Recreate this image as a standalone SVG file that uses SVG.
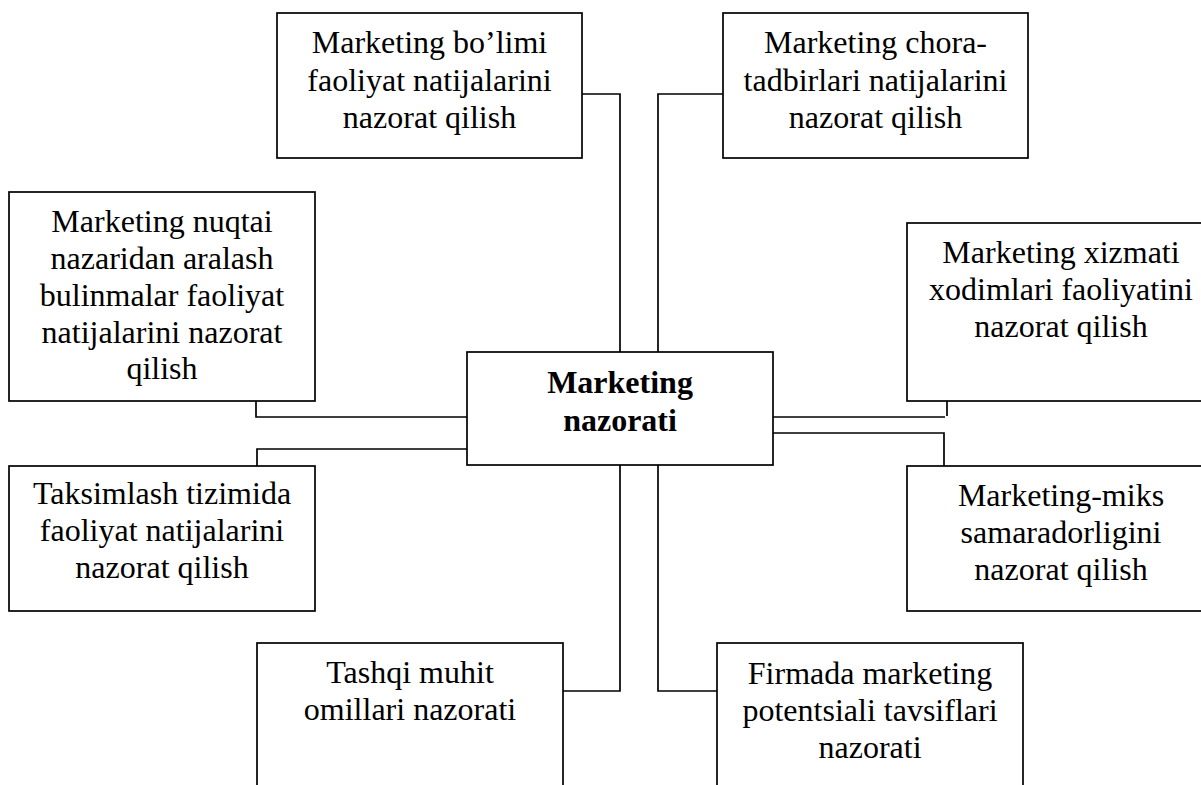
<svg xmlns="http://www.w3.org/2000/svg" width="1201" height="785" viewBox="0 0 1201 785">
<style>
rect.box{fill:#fff;stroke:#000;stroke-width:1.7}
.conn polyline{fill:none;stroke:#000;stroke-width:1.7}
text{font-family:"Liberation Serif","Times New Roman",serif;font-size:32px;fill:#000;text-anchor:middle}
text.bold{font-weight:bold}
</style>
<rect width="1201" height="785" fill="#fff"/>
<g class="conn" id="connectors">
<polyline points="582,94 620,94 620,352"/>
<polyline points="723,94 658,94 658,352"/>
<polyline points="256,401 256,417 467,417"/>
<polyline points="257,466 257,449 467,449"/>
<polyline points="773,417 945,417"/>
<polyline points="947,401 947,416"/>
<polyline points="773,433 944,433 944,466"/>
<polyline points="620,465 620,691 563,691"/>
<polyline points="658,465 658,691 717,691"/>
</g>
<g id="center">
<rect class="box" x="467" y="352" width="306" height="113"/>
<text class="bold" x="620" y="393">Marketing</text>
<text class="bold" x="620" y="431">nazorati</text>
</g>
<g id="n1">
<rect class="box" x="277" y="13" width="305" height="145"/>
<text x="429.5" y="53">Marketing bo’limi</text>
<text x="429.5" y="91">faoliyat natijalarini</text>
<text x="429.5" y="128">nazorat qilish</text>
</g>
<g id="n2">
<rect class="box" x="723" y="13" width="305" height="145"/>
<text x="875.5" y="53">Marketing chora-</text>
<text x="875.5" y="91">tadbirlari natijalarini</text>
<text x="875.5" y="128">nazorat qilish</text>
</g>
<g id="n3">
<rect class="box" x="9" y="192" width="306" height="209"/>
<text x="162" y="232">Marketing nuqtai</text>
<text x="162" y="269">nazaridan aralash</text>
<text x="162" y="306">bulinmalar faoliyat</text>
<text x="162" y="343">natijalarini nazorat</text>
<text x="162" y="379">qilish</text>
</g>
<g id="n4">
<rect class="box" x="9" y="466" width="306" height="145"/>
<text x="162" y="504">Taksimlash tizimida</text>
<text x="162" y="541">faoliyat natijalarini</text>
<text x="162" y="578">nazorat qilish</text>
</g>
<g id="n5">
<rect class="box" x="907" y="223" width="308" height="178"/>
<text x="1061" y="263">Marketing xizmati</text>
<text x="1061" y="300">xodimlari faoliyatini</text>
<text x="1061" y="337">nazorat qilish</text>
</g>
<g id="n6">
<rect class="box" x="907" y="466" width="308" height="145"/>
<text x="1061" y="506">Marketing-miks</text>
<text x="1061" y="543">samaradorligini</text>
<text x="1061" y="580">nazorat qilish</text>
</g>
<g id="n7">
<rect class="box" x="257" y="643" width="306" height="200"/>
<text x="410" y="683">Tashqi muhit</text>
<text x="410" y="720">omillari nazorati</text>
</g>
<g id="n8">
<rect class="box" x="717" y="643" width="306" height="200"/>
<text x="870" y="684">Firmada marketing</text>
<text x="870" y="721">potentsiali tavsiflari</text>
<text x="870" y="758">nazorati</text>
</g>
</svg>
